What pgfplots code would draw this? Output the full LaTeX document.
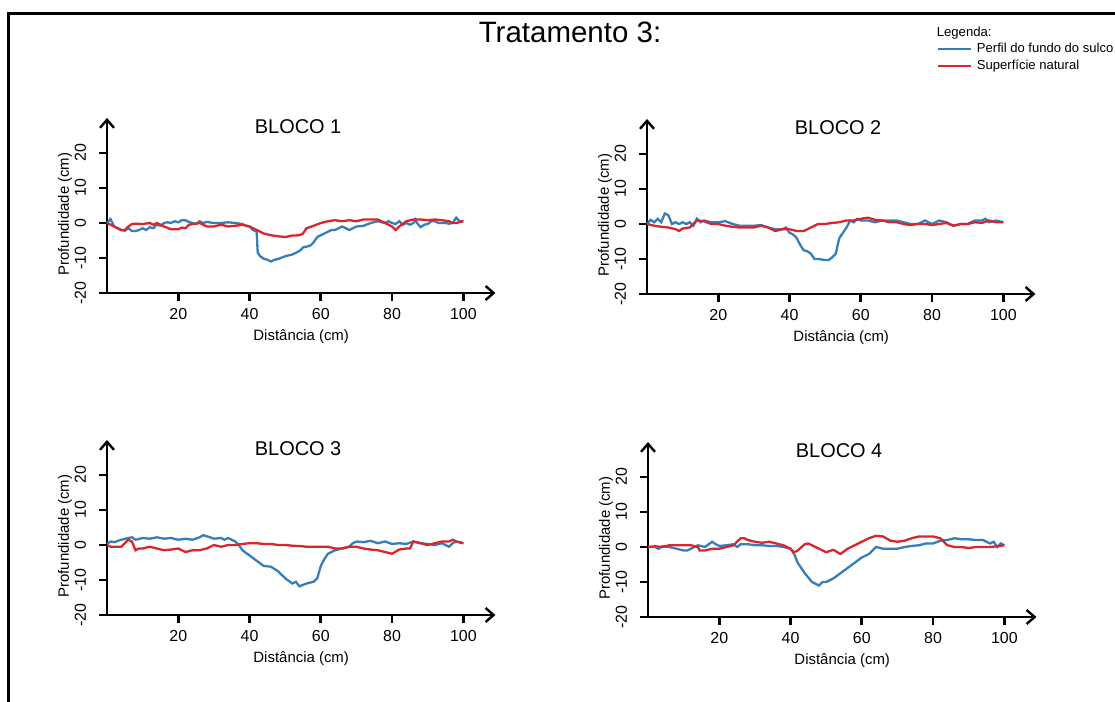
\documentclass[border=0pt]{standalone}
\usepackage{pgfplots}
\pgfplotsset{compat=1.18}
\usepackage{fontspec}
\setmainfont{Liberation Sans}
\usetikzlibrary{arrows.meta}

\definecolor{perfil}{RGB}{55,126,184}
\definecolor{superf}{RGB}{216,38,44}

\pgfplotsset{
  bloco/.style={
    scale only axis,
    width=194.2bp, height=87.5bp,
    xmin=0, xmax=109, ymin=-20, ymax=30,
    axis lines=left,
    axis line style={line width=1.4bp, -{Straight Barb[length=4bp,width=7bp,line width=1.2bp]}},
    xtick={20,40,60,80,100}, ytick={-20,-10,0,10,20},
    tick align=outside, major tick length=4bp,
    tick style={line width=1.4bp, black},
    /pgf/number format/assume math mode=true,
    ticklabel style={font=\fontsize{8}{9}\selectfont},
    yticklabel style={rotate=90, anchor=south},
    yticklabel shift=3bp,
    xlabel={Distância (cm)}, ylabel={Profundidade (cm)},
    label style={font=\fontsize{7.5}{9}\selectfont},
    xlabel style={at={(axis description cs:0.5,-0.251)}, anchor=center},
    ylabel style={at={(axis description cs:-0.108,0.451)}, anchor=center, rotate=0},
    title style={at={(rel axis cs:0.492,0.95)}, anchor=center, yshift=-6pt, font=\fontsize{10}{12}\selectfont},
    clip=false,
    every axis plot/.append style={line width=1.15bp, no markers},
  },
}

\begin{document}
\begin{tikzpicture}
\path[use as bounding box, clip] (0,0) rectangle (557.5bp,351bp);
\draw[line width=1.5bp] (4bp,-10bp) -- (4bp,344bp) -- (600bp,344bp);
\node[font=\fontsize{14.8}{16}\selectfont] at (285bp,335bp) {Tratamento 3:};

% BLOCO 1
\begin{axis}[bloco, at={(53.5bp,204.5bp)}, anchor=south west, title={BLOCO 1}]
\addplot[perfil] coordinates {
(0,0) (1,1.1) (2,-1) (4,-2) (5,-2.2) (6,-1.5) (7,-2.3) (8,-2.3) (9,-2) (10,-1.5)
(11,-2) (12,-1.2) (13,-1.5) (14,-0.5) (15,-0.8) (16,0) (17,0.2) (18,0) (19,0.5) (20,0.2)
(21,0.8) (22,0.8) (23,0.3) (24,0) (25,-0.3) (26,0.5) (27,0) (28,0.3) (30,0) (32,0)
(34,0.2) (36,0) (38,-0.3) (39,-0.8) (40,-1) (41,-2) (42,-2.5) (42.3,-8.5) (43,-9.5) (44,-10.2)
(45,-10.5) (46,-11) (47,-10.5) (48,-10.3) (50,-9.5) (52,-9) (54,-8) (55,-7) (57,-6.5) (58,-5.5)
(59,-4) (60,-3.5) (62,-2.5) (63,-2) (64,-2) (65,-1.5) (66,-1) (67,-1.5) (68,-2) (70,-1)
(72,-0.8) (74,0) (76,0.5) (78,0) (79,0.5) (80,0) (81,-0.3) (82,0.5) (83,-0.5) (84,0)
(85,-0.5) (86,0) (86.5,1) (87,0) (88,-1.2) (89,-0.5) (90,-0.3) (91,0.5) (92,0.5) (93,0)
(95,0) (96,-0.2) (97,0) (98,1.5) (99,0.5) (100,0.5)
};
\addplot[superf] coordinates {
(0,0) (2,-1) (4,-2) (5,-2) (6,-1) (7,-0.3) (8,-0.2) (10,-0.3) (12,0) (13,-0.5)
(14,0) (16,-1) (18,-1.8) (20,-1.8) (21,-1.3) (22,-1.5) (23,-0.5) (24,-0.3) (26,0) (28,-1)
(30,-1) (32,-0.5) (34,-1) (36,-0.8) (38,-0.5) (40,-1) (42,-2) (44,-3) (46,-3.5) (48,-3.8)
(50,-4) (52,-3.6) (54,-3.5) (55,-3) (56,-1.5) (58,-0.8) (60,0) (62,0.5) (64,0.8) (66,0.5)
(68,0.8) (70,0.5) (72,1) (74,1) (76,1) (78,0) (80,-1) (81,-2) (82,-1) (84,0.5)
(86,1) (88,1) (90,0.8) (92,1) (94,0.8) (96,0.5) (97,0) (98,0) (100,0.5)
};
\end{axis}

% BLOCO 2
\begin{axis}[bloco, at={(323.5bp,204bp)}, anchor=south west, title={BLOCO 2},
  legend style={at={(axis description cs:0.745,1.445)}, anchor=north west, draw=none, fill=none,
    inner sep=0pt, row sep=1bp, font=\fontsize{6.55}{7.5}\selectfont,
    nodes={inner sep=0.6bp, text height=4.9bp, text depth=1.4bp},
    /tikz/every odd column/.append style={column sep=1.8bp}},
  legend cell align=left,
  legend image code/.code={\draw[#1, line width=1.2bp] (0bp,0bp) -- (16.5bp,0bp);}]
\addplot[perfil] coordinates {
(0,0) (1,1.2) (2,0.5) (3,1.5) (4,0.5) (5,3) (6,2.5) (7,0) (8,0.5) (9,0)
(10,0.5) (11,0) (12,0.5) (13,-0.5) (14,1.5) (15,0.5) (16,1) (18,0.5) (20,0.5) (22,0.8)
(24,0) (26,-0.5) (28,-0.5) (30,-0.5) (32,-0.3) (34,-1) (36,-1.5) (38,-1.5) (39,-1) (40,-2.5)
(41,-3) (42,-4) (43,-6) (44,-7.5) (45,-7.8) (46,-8.5) (47,-10) (48,-10) (50,-10.3) (51,-10.3)
(52,-9.5) (53,-8.5) (53.5,-6) (54,-4) (55,-2.5) (56,-1) (57,1) (58,0.5) (59,1.5) (60,1)
(62,1) (64,0.5) (66,1) (68,1) (70,1) (72,0.5) (74,0) (76,0) (78,1) (80,0)
(82,1) (84,0.5) (86,-0.5) (88,0) (90,0) (92,1) (94,1) (95,1.5) (96,0.5) (98,1) (100,0.5)
};
\addlegendentry{Perfil do fundo do sulco}
\addplot[superf] coordinates {
(0,0) (2,-0.5) (4,-0.8) (6,-1) (8,-1.5) (9,-2) (10,-1.3) (12,-1) (13,0) (14,1)
(16,0.8) (18,0) (20,0) (22,-0.5) (24,-0.8) (26,-1) (28,-1) (30,-1) (32,-0.5) (34,-1)
(36,-2) (38,-1.5) (40,-1.5) (42,-2) (44,-2) (46,-1) (48,0) (50,0) (52,0.3) (54,0.5)
(56,1) (58,1) (60,1.5) (62,1.8) (64,1.2) (66,1) (68,0.5) (70,0.5) (72,0) (74,-0.3)
(76,0) (78,0) (80,-0.3) (82,0) (84,0.3) (86,-0.5) (88,0) (90,0) (92,0.5) (94,0.3)
(96,1) (98,0.5) (100,0.5)
};
\addlegendentry{Superfície natural}
\node[anchor=west, font=\fontsize{6.6}{7.5}\selectfont, inner sep=0pt] at (axis description cs:0.745,1.491) {Legenda:};
\end{axis}

% BLOCO 3
\begin{axis}[bloco, at={(53.5bp,43.5bp)}, anchor=south west, title={BLOCO 3}]
\addplot[perfil] coordinates {
(0,0.3) (1,1) (2,0.8) (4,1.5) (6,2) (7,2.2) (8,1.5) (10,2) (12,1.8) (14,2.2)
(16,1.8) (18,2) (20,1.5) (22,1.8) (24,1.5) (26,2.2) (27,2.8) (28,2.5) (30,1.8) (32,2)
(33,1.5) (34,2) (36,1) (37,0) (38,-1.5) (40,-3) (42,-4.5) (44,-6) (46,-6.2) (48,-7.5)
(50,-9.5) (52,-11) (53,-10.5) (54,-11.8) (56,-11) (58,-10.5) (59,-9.5) (60,-6) (61,-4) (62,-2.5)
(64,-1.5) (66,-1) (68,-0.5) (69,0.5) (70,1) (72,0.8) (74,1.2) (76,0.5) (78,1) (80,0.3)
(82,0.5) (84,0.3) (86,1) (88,0.5) (90,0.3) (92,0) (94,0.5) (96,-0.5) (97,0.5) (98,1) (100,0.5)
};
\addplot[superf] coordinates {
(0,0) (1,-0.5) (2,-0.5) (4,-0.5) (5,0.5) (6,1.5) (7,1) (8,-1.5) (9,-1) (10,-1)
(12,-0.5) (14,-1) (16,-1.5) (18,-1.3) (20,-1) (22,-2) (24,-1.5) (26,-1.5) (28,-1) (30,0)
(32,-0.5) (34,0) (36,0) (38,0.3) (40,0.5) (42,0.5) (44,0.3) (46,0.3) (48,0) (50,0)
(52,-0.2) (54,-0.3) (56,-0.5) (58,-0.5) (60,-0.5) (62,-0.5) (64,-1) (66,-1) (68,-0.5) (70,-0.5)
(72,-1) (74,-1.3) (76,-1.5) (78,-2) (80,-2.5) (82,-1.3) (84,-1) (85,-1) (86,1) (88,0.5)
(90,0) (92,0.5) (94,1) (96,1) (97,1.5) (98,1) (100,0.5)
};
\end{axis}

% BLOCO 4
\begin{axis}[bloco, at={(324bp,42.5bp)}, anchor=south west, title={BLOCO 4}]
\addplot[perfil] coordinates {
(0,0) (2,0) (3,-0.5) (4,0.2) (6,0) (8,-0.5) (10,-1) (11,-1) (12,-0.5) (13,0)
(14,0.5) (16,0) (18,1.5) (19,0.8) (20,0.3) (22,0.5) (24,0.8) (25,0) (26,0.8) (28,0.8)
(30,0.5) (32,0.5) (34,0.3) (36,0.3) (38,0) (40,-0.5) (41,-2) (42,-4.5) (44,-7.5) (46,-10)
(47,-10.5) (48,-11) (49,-10) (50,-10) (52,-9) (54,-7.5) (56,-6) (58,-4.5) (60,-3) (62,-2)
(64,0) (66,-0.5) (68,-0.5) (70,-0.5) (72,0) (74,0.3) (76,0.5) (78,1) (80,1) (82,1.8)
(84,2) (86,2.5) (88,2.2) (90,2.2) (92,2) (94,2) (96,1) (97,1.5) (98,0) (99,1) (100,0.5)
};
\addplot[superf] coordinates {
(0,0) (2,0.2) (4,0) (6,0.5) (8,0.5) (10,0.5) (12,0.5) (14,0) (14.5,-1) (16,-1)
(18,-0.5) (20,-0.5) (22,0) (24,0.5) (26,2.5) (27,2.5) (28,2) (30,1.5) (32,1.2) (34,1.5)
(36,1) (38,0.5) (40,-0.5) (41,-1.5) (42,-1) (44,0.8) (45,1) (46,0.5) (48,-0.5) (50,-1.5)
(52,-0.8) (54,-2) (56,-0.5) (58,0.5) (60,1.5) (62,2.5) (64,3.2) (66,3) (68,1.8) (70,1.5)
(72,1.8) (74,2.5) (76,3) (78,3) (80,3) (82,2.5) (84,0.5) (86,0) (88,0) (90,-0.3)
(92,0) (94,0) (96,0) (98,0.2) (100,0.5)
};
\end{axis}
\end{tikzpicture}
\end{document}
